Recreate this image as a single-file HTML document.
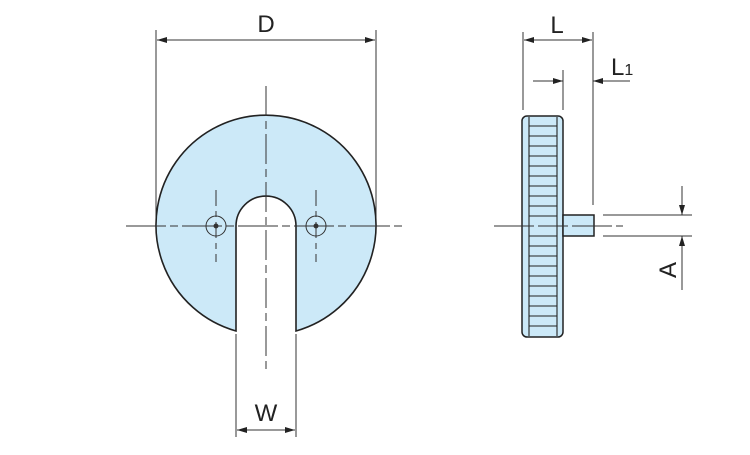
<!DOCTYPE html>
<html><head><style>body{margin:0;background:#fff}</style></head><body>
<svg width="750" height="450" viewBox="0 0 750 450" xmlns="http://www.w3.org/2000/svg" font-family="Liberation Sans, sans-serif">
<defs>
<marker id="a" viewBox="0 0 10 6" refX="10" refY="3" markerWidth="10" markerHeight="6" orient="auto-start-reverse" markerUnits="userSpaceOnUse"><path d="M0,0L10,3L0,6z" fill="#222"/></marker>
</defs>
<g stroke="#333" stroke-width="1" fill="none">
<line x1="156" y1="30" x2="156" y2="222"/><line x1="376" y1="30" x2="376" y2="222"/>
<line x1="157" y1="40" x2="375" y2="40" marker-start="url(#a)" marker-end="url(#a)"/>
</g>
<path d="M236,331 A110,110 0 1 1 296,331 L296,226 A30,30 0 0 0 236,226 Z" fill="#cce9f8" stroke="#222" stroke-width="1.6"/>
<g stroke="#333" stroke-width="1" fill="none">
<line x1="126" y1="226" x2="406" y2="226" stroke-dasharray="40,4,8,4"/>
<line x1="266" y1="86" x2="266" y2="370" stroke-dasharray="30,5,8,5"/>
<circle cx="216" cy="226" r="10"/><circle cx="316" cy="226" r="10"/>
<circle cx="216" cy="226" r="2" fill="#333"/><circle cx="316" cy="226" r="2" fill="#333"/>
<line x1="216" y1="190" x2="216" y2="262" stroke-dasharray="16,5,6,5"/>
<line x1="316" y1="190" x2="316" y2="262" stroke-dasharray="16,5,6,5"/>
<line x1="236" y1="334" x2="236" y2="437"/><line x1="296" y1="334" x2="296" y2="437"/>
<line x1="237" y1="430" x2="295" y2="430" marker-start="url(#a)" marker-end="url(#a)"/>
<line x1="523" y1="32" x2="523" y2="110"/><line x1="593" y1="32" x2="593" y2="205"/>
<line x1="524" y1="40" x2="592" y2="40" marker-start="url(#a)" marker-end="url(#a)"/>
<line x1="563" y1="70" x2="563" y2="110"/>
<line x1="533" y1="81" x2="563" y2="81" marker-end="url(#a)"/>
<line x1="630" y1="81" x2="593" y2="81" marker-end="url(#a)"/>
<line x1="603" y1="215" x2="692" y2="215"/><line x1="603" y1="236" x2="692" y2="236"/>
<line x1="682" y1="186" x2="682" y2="215" marker-end="url(#a)"/>
<line x1="682" y1="290" x2="682" y2="236" marker-end="url(#a)"/>
</g>
<rect x="522" y="116" width="41" height="221" rx="5" fill="#cce9f8" stroke="#222" stroke-width="1.5"/>
<g stroke="#222" stroke-width="1.1">
<line x1="529" y1="117" x2="529" y2="336"/><line x1="557" y1="117" x2="557" y2="336"/>
<line x1="529" y1="126" x2="557" y2="126"/><line x1="529" y1="136" x2="557" y2="136"/><line x1="529" y1="146" x2="557" y2="146"/><line x1="529" y1="156" x2="557" y2="156"/><line x1="529" y1="166" x2="557" y2="166"/><line x1="529" y1="176" x2="557" y2="176"/><line x1="529" y1="186" x2="557" y2="186"/><line x1="529" y1="196" x2="557" y2="196"/><line x1="529" y1="206" x2="557" y2="206"/><line x1="529" y1="216" x2="557" y2="216"/><line x1="529" y1="236" x2="557" y2="236"/><line x1="529" y1="246" x2="557" y2="246"/><line x1="529" y1="256" x2="557" y2="256"/><line x1="529" y1="266" x2="557" y2="266"/><line x1="529" y1="276" x2="557" y2="276"/><line x1="529" y1="286" x2="557" y2="286"/><line x1="529" y1="296" x2="557" y2="296"/><line x1="529" y1="306" x2="557" y2="306"/><line x1="529" y1="316" x2="557" y2="316"/><line x1="529" y1="326" x2="557" y2="326"/>
</g>
<rect x="563" y="215" width="31" height="21" fill="#cce9f8" stroke="#222" stroke-width="1.5"/>
<line x1="494" y1="226" x2="623" y2="226" stroke="#333" stroke-dasharray="40,4,30,4"/>
<g fill="#222" font-size="24">
<text x="266" y="32" text-anchor="middle">D</text>
<text x="266" y="421" text-anchor="middle">W</text>
<text x="557" y="33" text-anchor="middle">L</text>
<text x="611" y="75">L<tspan font-size="16">1</tspan></text>
<text transform="translate(676,270) rotate(-90)" text-anchor="middle">A</text>
</g>
</svg>
</body></html>
